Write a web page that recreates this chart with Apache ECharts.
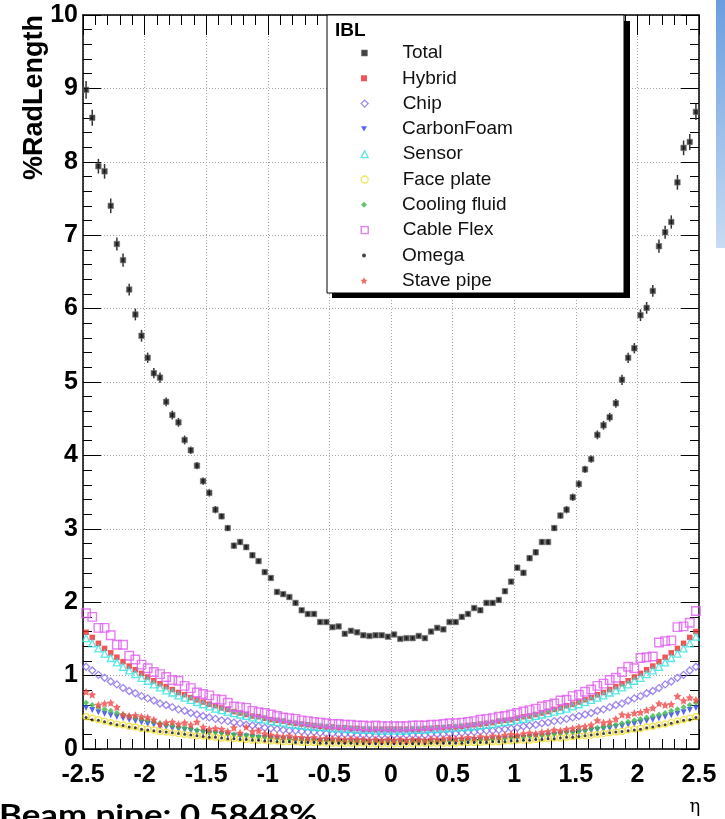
<!DOCTYPE html>
<html><head><meta charset="utf-8">
<script src="https://cdn.jsdelivr.net/npm/echarts@6/dist/echarts.min.js"></script>
<style>html,body{margin:0;padding:0;background:#fff;overflow:hidden}#c{width:725px;height:819px}</style>
</head><body><div id="c"></div>
<script>
// ---- data ----
const eta = [-2.475,-2.425,-2.375,-2.325,-2.275,-2.225,-2.175,-2.125,-2.075,-2.025,
-1.975,-1.925,-1.875,-1.825,-1.775,-1.725,-1.675,-1.625,-1.575,-1.525,
-1.475,-1.425,-1.375,-1.325,-1.275,-1.225,-1.175,-1.125,-1.075,-1.025,
-0.975,-0.925,-0.875,-0.825,-0.775,-0.725,-0.675,-0.625,-0.575,-0.525,
-0.475,-0.425,-0.375,-0.325,-0.275,-0.225,-0.175,-0.125,-0.075,-0.025,
0.025,0.075,0.125,0.175,0.225,0.275,0.325,0.375,0.425,0.475,
0.525,0.575,0.625,0.675,0.725,0.775,0.825,0.875,0.925,0.975,
1.025,1.075,1.125,1.175,1.225,1.275,1.325,1.375,1.425,1.475,
1.525,1.575,1.625,1.675,1.725,1.775,1.825,1.875,1.925,1.975,
2.025,2.075,2.125,2.175,2.225,2.275,2.325,2.375,2.425,2.475];

const total = [8.98,8.60,7.94,7.87,7.40,6.88,6.66,6.26,5.92,5.63,
5.33,5.12,5.06,4.73,4.55,4.45,4.21,4.07,3.86,3.65,
3.49,3.26,3.17,3.01,2.77,2.82,2.75,2.64,2.56,2.41,
2.33,2.14,2.11,2.07,1.99,1.89,1.84,1.84,1.73,1.73,
1.66,1.67,1.57,1.61,1.59,1.55,1.54,1.55,1.55,1.53,
1.56,1.50,1.51,1.51,1.54,1.51,1.60,1.65,1.63,1.73,
1.73,1.80,1.84,1.92,1.89,1.99,1.99,2.03,2.15,2.28,
2.47,2.40,2.60,2.68,2.82,2.82,3.01,3.18,3.26,3.43,
3.61,3.81,3.95,4.28,4.41,4.52,4.71,5.03,5.33,5.46,
5.91,6.01,6.24,6.85,7.04,7.18,7.72,8.19,8.27,8.68];

const totalErr = [0.12,0.11,0.10,0.10,0.10,0.09,0.09,0.08,0.08,0.08,
0.07,0.07,0.07,0.06,0.06,0.06,0.06,0.05,0.05,0.05,
0.05,0.05,0.04,0.04,0.04,0.04,0.04,0.04,0.03,0.03,
0.03,0.03,0.03,0.03,0.03,0.03,0.03,0.03,0.03,0.03,
0.02,0.02,0.02,0.02,0.02,0.02,0.02,0.02,0.02,0.02,
0.02,0.02,0.02,0.02,0.02,0.02,0.02,0.02,0.02,0.02,
0.03,0.03,0.03,0.03,0.03,0.03,0.03,0.03,0.03,0.03,
0.04,0.04,0.04,0.04,0.04,0.04,0.04,0.04,0.05,0.05,
0.05,0.05,0.05,0.06,0.06,0.06,0.06,0.07,0.07,0.07,
0.08,0.08,0.08,0.09,0.09,0.09,0.10,0.10,0.11,0.11];

const hybrid = [1.59,1.52,1.44,1.37,1.31,1.25,1.19,1.13,1.08,1.03,
0.98,0.93,0.89,0.85,0.81,0.77,0.74,0.70,0.67,0.64,
0.61,0.59,0.56,0.54,0.51,0.49,0.47,0.45,0.44,0.42,
0.40,0.39,0.38,0.36,0.35,0.34,0.33,0.32,0.31,0.30,
0.30,0.29,0.29,0.28,0.28,0.27,0.27,0.27,0.27,0.27,
0.27,0.27,0.27,0.27,0.27,0.28,0.28,0.29,0.29,0.30,
0.30,0.31,0.32,0.33,0.34,0.35,0.36,0.38,0.39,0.40,
0.42,0.44,0.45,0.47,0.49,0.51,0.54,0.56,0.59,0.61,
0.64,0.67,0.70,0.74,0.77,0.81,0.85,0.89,0.93,0.98,
1.03,1.08,1.13,1.19,1.25,1.31,1.37,1.44,1.52,1.60];

const chip = [1.12,1.07,1.01,0.97,0.92,0.88,0.83,0.79,0.76,0.72,
0.69,0.66,0.62,0.60,0.57,0.54,0.52,0.49,0.47,0.45,
0.43,0.41,0.39,0.38,0.36,0.35,0.33,0.32,0.31,0.29,
0.28,0.27,0.26,0.25,0.25,0.24,0.23,0.23,0.22,0.21,
0.21,0.20,0.20,0.20,0.19,0.19,0.19,0.19,0.19,0.19,
0.19,0.19,0.19,0.19,0.19,0.19,0.20,0.20,0.20,0.21,
0.21,0.22,0.23,0.23,0.24,0.25,0.25,0.26,0.27,0.28,
0.29,0.31,0.32,0.33,0.35,0.36,0.38,0.39,0.41,0.43,
0.45,0.47,0.49,0.52,0.54,0.57,0.60,0.62,0.66,0.69,
0.72,0.76,0.79,0.83,0.88,0.92,0.97,1.01,1.07,1.12];

const carbonFoam = [0.56,0.53,0.50,0.48,0.46,0.44,0.42,0.40,0.38,0.36,
0.34,0.33,0.31,0.30,0.28,0.27,0.26,0.25,0.23,0.22,
0.21,0.21,0.20,0.19,0.18,0.17,0.17,0.16,0.15,0.15,
0.14,0.14,0.13,0.13,0.12,0.12,0.12,0.11,0.11,0.11,
0.10,0.10,0.10,0.10,0.10,0.10,0.09,0.09,0.09,0.09,
0.09,0.09,0.09,0.09,0.10,0.10,0.10,0.10,0.10,0.10,
0.11,0.11,0.11,0.12,0.12,0.12,0.13,0.13,0.14,0.14,
0.15,0.15,0.16,0.17,0.17,0.18,0.19,0.20,0.21,0.21,
0.22,0.23,0.25,0.26,0.27,0.28,0.30,0.31,0.33,0.34,
0.36,0.38,0.40,0.42,0.44,0.46,0.48,0.50,0.53,0.56];

const sensor = [1.51,1.44,1.37,1.30,1.24,1.18,1.12,1.07,1.02,0.97,
0.93,0.88,0.84,0.80,0.77,0.73,0.70,0.67,0.64,0.61,
0.58,0.55,0.53,0.51,0.49,0.47,0.45,0.43,0.41,0.40,
0.38,0.37,0.36,0.34,0.33,0.32,0.31,0.30,0.30,0.29,
0.28,0.28,0.27,0.27,0.26,0.26,0.26,0.25,0.25,0.25,
0.25,0.25,0.25,0.26,0.26,0.26,0.27,0.27,0.28,0.28,
0.29,0.30,0.30,0.31,0.32,0.33,0.34,0.36,0.37,0.38,
0.40,0.41,0.43,0.45,0.47,0.49,0.51,0.53,0.55,0.58,
0.61,0.64,0.67,0.70,0.73,0.77,0.80,0.84,0.88,0.93,
0.97,1.02,1.07,1.12,1.18,1.24,1.30,1.37,1.44,1.53];

const facePlate = [0.44,0.42,0.40,0.38,0.36,0.34,0.33,0.31,0.30,0.28,
0.27,0.26,0.24,0.23,0.22,0.21,0.20,0.19,0.18,0.18,
0.17,0.16,0.15,0.15,0.14,0.14,0.13,0.12,0.12,0.12,
0.11,0.11,0.10,0.10,0.10,0.09,0.09,0.09,0.09,0.08,
0.08,0.08,0.08,0.08,0.08,0.08,0.07,0.07,0.07,0.07,
0.07,0.07,0.07,0.07,0.08,0.08,0.08,0.08,0.08,0.08,
0.08,0.09,0.09,0.09,0.09,0.10,0.10,0.10,0.11,0.11,
0.12,0.12,0.12,0.13,0.14,0.14,0.15,0.15,0.16,0.17,
0.18,0.18,0.19,0.20,0.21,0.22,0.23,0.24,0.26,0.27,
0.28,0.30,0.31,0.33,0.34,0.36,0.38,0.40,0.42,0.44];

const coolingFluid = [0.63,0.60,0.57,0.54,0.52,0.49,0.47,0.45,0.43,0.41,
0.39,0.37,0.35,0.33,0.32,0.30,0.29,0.28,0.26,0.25,
0.24,0.23,0.22,0.21,0.20,0.19,0.19,0.18,0.17,0.17,
0.16,0.15,0.15,0.14,0.14,0.13,0.13,0.13,0.12,0.12,
0.12,0.12,0.11,0.11,0.11,0.11,0.11,0.11,0.11,0.11,
0.11,0.11,0.11,0.11,0.11,0.11,0.11,0.11,0.12,0.12,
0.12,0.12,0.13,0.13,0.13,0.14,0.14,0.15,0.15,0.16,
0.17,0.17,0.18,0.19,0.19,0.20,0.21,0.22,0.23,0.24,
0.25,0.26,0.28,0.29,0.30,0.32,0.33,0.35,0.37,0.39,
0.41,0.43,0.45,0.47,0.49,0.52,0.54,0.57,0.60,0.63];

const cableFlex = [1.85,1.80,1.65,1.65,1.55,1.42,1.42,1.27,1.22,1.15,
1.10,1.05,1.02,0.98,0.94,0.93,0.86,0.83,0.77,0.75,
0.73,0.68,0.67,0.63,0.58,0.57,0.56,0.52,0.50,0.49,
0.47,0.45,0.43,0.42,0.41,0.39,0.38,0.37,0.36,0.35,
0.34,0.34,0.33,0.33,0.32,0.32,0.31,0.32,0.31,0.31,
0.31,0.31,0.31,0.32,0.32,0.32,0.33,0.33,0.34,0.35,
0.35,0.36,0.37,0.38,0.40,0.41,0.42,0.44,0.45,0.47,
0.49,0.51,0.53,0.55,0.58,0.60,0.62,0.66,0.67,0.72,
0.74,0.78,0.81,0.86,0.89,0.94,0.97,1.05,1.12,1.10,
1.24,1.25,1.26,1.45,1.47,1.48,1.66,1.67,1.72,1.88];

const omega = [0.43,0.40,0.39,0.37,0.35,0.33,0.32,0.30,0.29,0.27,
0.26,0.25,0.24,0.23,0.22,0.21,0.20,0.19,0.18,0.17,
0.16,0.16,0.15,0.14,0.14,0.13,0.13,0.12,0.12,0.11,
0.11,0.10,0.10,0.10,0.09,0.09,0.09,0.09,0.08,0.08,
0.08,0.08,0.08,0.08,0.07,0.07,0.07,0.07,0.07,0.07,
0.07,0.07,0.07,0.07,0.07,0.07,0.08,0.08,0.08,0.08,
0.08,0.08,0.09,0.09,0.09,0.09,0.10,0.10,0.10,0.11,
0.11,0.12,0.12,0.13,0.13,0.14,0.14,0.15,0.16,0.16,
0.17,0.18,0.19,0.20,0.21,0.22,0.23,0.24,0.25,0.26,
0.27,0.29,0.30,0.32,0.33,0.35,0.37,0.39,0.40,0.43];

const stavePipe = [0.78,0.74,0.60,0.62,0.63,0.57,0.47,0.45,0.46,0.44,
0.43,0.40,0.34,0.36,0.37,0.34,0.36,0.33,0.37,0.30,
0.27,0.28,0.27,0.24,0.29,0.22,0.30,0.24,0.25,0.21,
0.19,0.18,0.17,0.18,0.16,0.16,0.15,0.16,0.14,0.15,
0.14,0.14,0.13,0.14,0.13,0.13,0.12,0.13,0.12,0.13,
0.12,0.13,0.12,0.13,0.13,0.12,0.14,0.13,0.14,0.15,
0.14,0.15,0.16,0.15,0.17,0.16,0.18,0.17,0.19,0.20,
0.19,0.21,0.22,0.21,0.23,0.24,0.26,0.25,0.27,0.28,
0.30,0.31,0.33,0.39,0.36,0.37,0.41,0.47,0.46,0.49,
0.50,0.53,0.56,0.62,0.60,0.61,0.72,0.66,0.70,0.67];

const xTickLabels = ['-2.5','-2','-1.5','-1','-0.5','0','0.5','1','1.5','2','2.5'];
const yTickLabels = ['0','1','2','3','4','5','6','7','8','9','10'];

// ---- chart ----
const chart = echarts.init(document.getElementById('c'), null, {renderer: 'canvas'});
const FONT = 'Liberation Sans';
const pts = arr => eta.map((x, i) => [x, arr[i]]);

const STAR = 'path://M0,-10 L2.9,-4 9.5,-3.1 4.7,1.5 5.9,8.1 0,5 -5.9,8.1 -4.7,1.5 -9.5,-3.1 -2.9,-4 Z';
const TRI_DOWN = 'path://M-5,-4 L5,-4 L0,5 Z';

const styles = {
  'Total':        {symbol: 'rect', size: 5.5, item: {color: '#111', borderColor: '#777', borderWidth: 0.8}},
  'Hybrid':       {symbol: 'rect', size: 5.5, item: {color: '#ee2a2a'}},
  'Chip':         {symbol: 'diamond', size: 7, item: {color: 'rgba(0,0,0,0)', borderColor: '#8a6ae8', borderWidth: 1.3}},
  'CarbonFoam':   {symbol: TRI_DOWN, size: 6, item: {color: '#2d3fe8'}},
  'Sensor':       {symbol: 'triangle', size: 7, item: {color: 'rgba(0,0,0,0)', borderColor: '#30e0e0', borderWidth: 1.3}},
  'Face plate':   {symbol: 'circle', size: 6, item: {color: 'rgba(0,0,0,0)', borderColor: '#f0df30', borderWidth: 1.3}},
  'Cooling fluid':{symbol: 'diamond', size: 6, item: {color: '#3cb84a'}},
  'Cable Flex':   {symbol: 'rect', size: 8.5, item: {color: 'rgba(0,0,0,0)', borderColor: '#e05ef0', borderWidth: 1.4}},
  'Omega':        {symbol: 'circle', size: 3, item: {color: '#111'}},
  'Stave pipe':   {symbol: STAR, size: 8, item: {color: '#f04848'}}
};
const legendIconSize = {
  'Total': 6, 'Hybrid': 6, 'Chip': 7, 'CarbonFoam': 6, 'Sensor': 7,
  'Face plate': 7, 'Cooling fluid': 6, 'Cable Flex': 7, 'Omega': 4, 'Stave pipe': 7
};
const seriesData = {
  'Total': total, 'Hybrid': hybrid, 'Chip': chip, 'CarbonFoam': carbonFoam, 'Sensor': sensor,
  'Face plate': facePlate, 'Cooling fluid': coolingFluid, 'Cable Flex': cableFlex, 'Omega': omega, 'Stave pipe': stavePipe
};
const names = Object.keys(seriesData);

const scatterSeries = names.map(n => ({
  name: n, type: 'scatter', data: pts(seriesData[n]),
  symbol: styles[n].symbol, symbolSize: styles[n].size, itemStyle: styles[n].item,
  silent: true, z: 3
}));

const errSeries = {
  name: 'TotalErr', type: 'custom', silent: true, z: 3,
  data: eta.map((x, i) => [x, total[i], totalErr[i]]),
  encode: {x: 0, y: 1},
  renderItem: (params, api) => {
    const x = api.value(0), y = api.value(1), e = api.value(2);
    const p1 = api.coord([x, y - e]), p2 = api.coord([x, y + e]);
    return {type: 'line', shape: {x1: p1[0], y1: p1[1], x2: p2[0], y2: p2[1]},
            style: {stroke: '#333', lineWidth: 1.5}};
  }
};

const axisCommon = {
  axisLine: {show: true, onZero: false, lineStyle: {color: '#000', width: 1.5}},
  splitLine: {show: false}
};

// legend: one vertical legend per row so each icon keeps its own size
const legendRowTop = 43.5, legendPitch = 25.3, ICON_CX = 364, TEXT_X = 402;
const legends = names.map((n, i) => {
  const s = legendIconSize[n];
  return {
    orient: 'vertical', left: ICON_CX - s / 2, top: legendRowTop + i * legendPitch, padding: 0,
    itemWidth: s, itemHeight: s, itemGap: 0, z: 10, selectedMode: false,
    textStyle: {fontFamily: FONT, fontSize: 19, lineHeight: 19, color: '#111',
                padding: [0, 0, 0, TEXT_X - (ICON_CX + s / 2) - 5]},
    data: [{name: n, icon: styles[n].symbol, itemStyle: styles[n].item}]
  };
});

const option = {
  animation: false,
  backgroundColor: '#fff',
  grid: {left: 83, right: 26, top: 15, bottom: 70, containLabel: false, outerBoundsMode: 'none'},
  xAxis: [
    Object.assign({}, axisCommon, {
      type: 'value', min: -2.5, max: 2.5, interval: 0.5, position: 'bottom',
      axisTick: {show: true, inside: true, length: 20, lineStyle: {color: '#000'}},
      minorTick: {show: true, splitNumber: 5, length: 10, lineStyle: {color: '#000'}},
      splitLine: {show: true, lineStyle: {color: '#a5a5a5', type: [1, 2], width: 1}},
      axisLabel: {show: true, margin: 14, fontFamily: FONT, fontWeight: 'bold', fontSize: 25, color: '#000',
        showMinLabel: true, showMaxLabel: true,
        formatter: v => xTickLabels[Math.round((v + 2.5) / 0.5)]}
    }),
    Object.assign({}, axisCommon, {
      type: 'value', min: -2.5, max: 2.5, interval: 0.5, position: 'top',
      axisTick: {show: true, inside: true, length: 20, lineStyle: {color: '#000'}},
      minorTick: {show: true, splitNumber: 5, length: 10, lineStyle: {color: '#000'}},
      axisLabel: {show: false}
    })
  ],
  yAxis: [
    Object.assign({}, axisCommon, {
      type: 'value', min: 0, max: 10, interval: 1, position: 'left',
      axisTick: {show: true, inside: true, length: 18, lineStyle: {color: '#000'}},
      minorTick: {show: true, splitNumber: 5, length: 9, lineStyle: {color: '#000'}},
      splitLine: {show: true, lineStyle: {color: '#a5a5a5', type: [1, 2], width: 1}},
      axisLabel: {show: true, margin: 5, fontFamily: FONT, fontWeight: 'bold', fontSize: 25, color: '#000',
        showMinLabel: true, showMaxLabel: true,
        formatter: v => yTickLabels[Math.round(v)]}
    }),
    Object.assign({}, axisCommon, {
      type: 'value', min: 0, max: 10, interval: 1, position: 'right',
      axisTick: {show: true, inside: true, length: 18, lineStyle: {color: '#000'}},
      minorTick: {show: true, splitNumber: 5, length: 9, lineStyle: {color: '#000'}},
      axisLabel: {show: false}
    })
  ],
  legend: legends,
  graphic: [
    {type: 'rect', z: 5, shape: {x: 332, y: 21, width: 298, height: 277}, style: {fill: '#000'}},
    {type: 'rect', z: 6, shape: {x: 327, y: 15, width: 297, height: 278}, style: {fill: '#fff', stroke: '#000', lineWidth: 1}},
    {type: 'text', z: 11, x: 335, y: 21, style: {text: 'IBL', font: 'bold 19px "Liberation Sans"', fill: '#000', textVerticalAlign: 'top'}},
    {type: 'text', z: 11, x: 35, y: 15, rotation: Math.PI / 2,
      style: {text: '%RadLength', font: 'bold 27px "Liberation Sans"', fill: '#000', textAlign: 'right', textVerticalAlign: 'middle'}},
    {type: 'text', z: 11, x: 695, y: 807, style: {text: 'η', font: '18px "DejaVu Serif"', fill: '#000', textAlign: 'center', textVerticalAlign: 'middle'}},
    {type: 'text', z: 11, x: -1, y: 801, scaleX: 1.2,
      style: {text: 'Beam pipe: 0.5848%', font: 'bold 29px Lato', fill: '#000', textVerticalAlign: 'top'}},
    {type: 'rect', z: 11, shape: {x: 716, y: 0, width: 9, height: 248},
      style: {fill: new echarts.graphic.LinearGradient(0, 0, 0, 1, [{offset: 0, color: '#6a9de0'}, {offset: 1, color: '#c8dcf3'}])}}
  ],
  series: scatterSeries.concat([errSeries])
};
chart.setOption(option);
</script>
</body></html>
